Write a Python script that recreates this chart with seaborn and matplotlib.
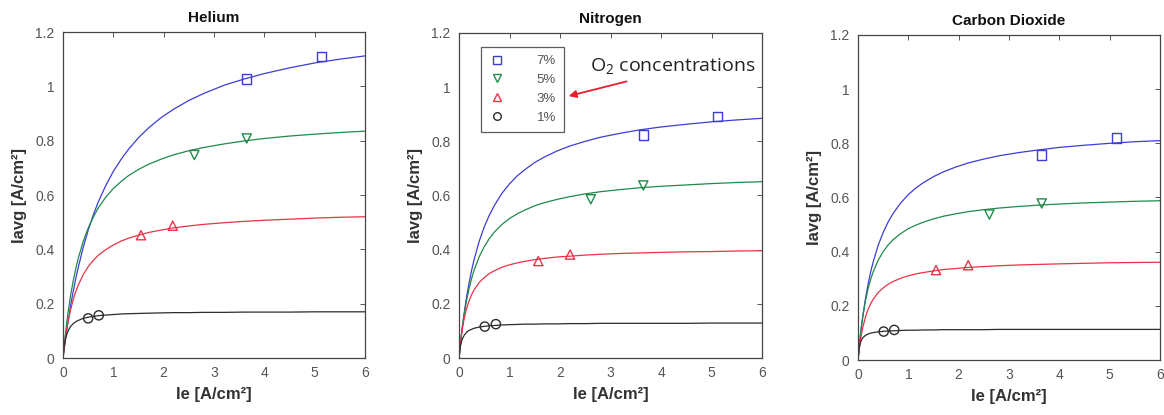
import matplotlib
matplotlib.use("Agg")
import matplotlib.pyplot as plt
from matplotlib.lines import Line2D
import seaborn as sns

# ---------------- data ----------------
GASES = ["Helium", "Nitrogen", "Carbon Dioxide"]
CONC_LABELS = ["7%", "5%", "3%", "1%"]

X_FIT = [0, 0.025, 0.05, 0.075, 0.1, 0.15, 0.2, 0.25, 0.3, 0.4, 0.5, 0.6, 0.7, 0.85, 1.0,
         1.15, 1.3, 1.5, 1.7, 1.95, 2.2, 2.5, 2.8, 3.2, 3.6, 4.0, 4.5, 5.0, 5.5, 6.0]

he_fit_7 = [0, 0.036, 0.071, 0.103, 0.134, 0.191, 0.242, 0.289, 0.331, 0.406, 0.470, 0.526, 0.574, 0.635, 0.687,
            0.730, 0.768, 0.811, 0.847, 0.885, 0.916, 0.948, 0.974, 1.004, 1.027, 1.047, 1.068, 1.086, 1.100, 1.112]
he_fit_5 = [0, 0.049, 0.092, 0.131, 0.167, 0.229, 0.281, 0.326, 0.365, 0.428, 0.478, 0.518, 0.552, 0.592, 0.624,
            0.649, 0.671, 0.694, 0.713, 0.732, 0.748, 0.763, 0.775, 0.788, 0.799, 0.808, 0.817, 0.824, 0.830, 0.835]
he_fit_3 = [0, 0.040, 0.075, 0.106, 0.132, 0.177, 0.213, 0.243, 0.267, 0.306, 0.336, 0.359, 0.378, 0.399, 0.416,
            0.430, 0.441, 0.452, 0.462, 0.471, 0.479, 0.486, 0.492, 0.498, 0.503, 0.507, 0.511, 0.515, 0.518, 0.520]
he_fit_1 = [0, 0.044, 0.070, 0.087, 0.099, 0.116, 0.126, 0.133, 0.138, 0.146, 0.150, 0.153, 0.156, 0.158, 0.160,
            0.162, 0.163, 0.164, 0.165, 0.166, 0.167, 0.167, 0.168, 0.168, 0.169, 0.169, 0.169, 0.170, 0.170, 0.170]

n2_fit_7 = [0, 0.047, 0.089, 0.127, 0.163, 0.225, 0.278, 0.324, 0.364, 0.431, 0.484, 0.527, 0.563, 0.608, 0.643,
            0.672, 0.695, 0.722, 0.743, 0.765, 0.783, 0.800, 0.815, 0.830, 0.843, 0.853, 0.863, 0.872, 0.879, 0.885]
n2_fit_5 = [0, 0.048, 0.089, 0.126, 0.158, 0.213, 0.257, 0.294, 0.325, 0.374, 0.411, 0.441, 0.465, 0.493, 0.515,
            0.532, 0.546, 0.562, 0.574, 0.586, 0.596, 0.606, 0.614, 0.622, 0.629, 0.634, 0.639, 0.644, 0.648, 0.651]
n2_fit_3 = [0, 0.048, 0.086, 0.117, 0.143, 0.182, 0.211, 0.234, 0.252, 0.279, 0.297, 0.312, 0.322, 0.335, 0.344,
            0.351, 0.357, 0.363, 0.368, 0.373, 0.376, 0.380, 0.383, 0.386, 0.388, 0.390, 0.392, 0.393, 0.395, 0.396]
n2_fit_1 = [0, 0.040, 0.061, 0.074, 0.083, 0.095, 0.102, 0.106, 0.110, 0.114, 0.117, 0.119, 0.120, 0.122, 0.123,
            0.124, 0.125, 0.125, 0.126, 0.126, 0.127, 0.127, 0.128, 0.128, 0.128, 0.128, 0.128, 0.129, 0.129, 0.129]

co2_fit_7 = [0, 0.049, 0.092, 0.131, 0.167, 0.228, 0.280, 0.324, 0.361, 0.423, 0.471, 0.510, 0.542, 0.580, 0.611,
             0.635, 0.655, 0.677, 0.695, 0.713, 0.728, 0.742, 0.754, 0.766, 0.776, 0.785, 0.793, 0.800, 0.806, 0.810]
co2_fit_5 = [0, 0.053, 0.097, 0.135, 0.167, 0.221, 0.263, 0.297, 0.325, 0.368, 0.400, 0.425, 0.445, 0.467, 0.485,
             0.498, 0.509, 0.521, 0.531, 0.540, 0.548, 0.555, 0.561, 0.567, 0.572, 0.576, 0.580, 0.583, 0.586, 0.588]
co2_fit_3 = [0, 0.041, 0.075, 0.102, 0.124, 0.160, 0.187, 0.207, 0.224, 0.249, 0.266, 0.280, 0.290, 0.302, 0.311,
             0.318, 0.323, 0.329, 0.334, 0.338, 0.342, 0.345, 0.348, 0.351, 0.353, 0.355, 0.357, 0.359, 0.360, 0.361]
co2_fit_1 = [0, 0.045, 0.065, 0.076, 0.083, 0.091, 0.096, 0.099, 0.101, 0.104, 0.106, 0.107, 0.108, 0.109, 0.110,
             0.110, 0.111, 0.111, 0.112, 0.112, 0.112, 0.112, 0.113, 0.113, 0.113, 0.113, 0.113, 0.113, 0.113, 0.113]

# measured points
he_x_7, he_y_7 = [3.65, 5.13], [1.027, 1.110]
he_x_5, he_y_5 = [2.61, 3.65], [0.747, 0.808]
he_x_3, he_y_3 = [1.55, 2.18], [0.452, 0.487]
he_x_1, he_y_1 = [0.50, 0.71], [0.146, 0.157]

n2_x_7, n2_y_7 = [3.65, 5.12], [0.823, 0.893]
n2_x_5, n2_y_5 = [2.61, 3.65], [0.586, 0.637]
n2_x_3, n2_y_3 = [1.57, 2.20], [0.358, 0.382]
n2_x_1, n2_y_1 = [0.51, 0.73], [0.116, 0.125]

co2_x_7, co2_y_7 = [3.65, 5.13], [0.757, 0.820]
co2_x_5, co2_y_5 = [2.61, 3.65], [0.537, 0.578]
co2_x_3, co2_y_3 = [1.55, 2.19], [0.332, 0.350]
co2_x_1, co2_y_1 = [0.51, 0.72], [0.105, 0.111]

X_TICKS = [0, 1, 2, 3, 4, 5, 6]
Y_TICKS = [0, 0.2, 0.4, 0.6, 0.8, 1.0, 1.2]
Y_TICK_LABELS = ["0", "0.2", "0.4", "0.6", "0.8", "1", "1.2"]

# ---------------- styling ----------------
sns.set_style("white")
plt.rcParams["font.family"] = ["Liberation Sans", "DejaVu Sans"]
plt.rcParams["mathtext.fontset"] = "custom"
plt.rcParams["mathtext.rm"] = "Open Sans"

COLORS = ["#3d3dd6", "#1f8a4a", "#ea3348", "#2b2b2b"]
MARKERS = ["s", "v", "^", "o"]

fits = [
    [he_fit_7, he_fit_5, he_fit_3, he_fit_1],
    [n2_fit_7, n2_fit_5, n2_fit_3, n2_fit_1],
    [co2_fit_7, co2_fit_5, co2_fit_3, co2_fit_1],
]
points = [
    [(he_x_7, he_y_7), (he_x_5, he_y_5), (he_x_3, he_y_3), (he_x_1, he_y_1)],
    [(n2_x_7, n2_y_7), (n2_x_5, n2_y_5), (n2_x_3, n2_y_3), (n2_x_1, n2_y_1)],
    [(co2_x_7, co2_y_7), (co2_x_5, co2_y_5), (co2_x_3, co2_y_3), (co2_x_1, co2_y_1)],
]

fig = plt.figure(figsize=(11.64, 4.15), dpi=100)
axes_rects = [
    [63 / 1164, 57 / 415, 302 / 1164, 326 / 415],
    [459 / 1164, 57 / 415, 303 / 1164, 325 / 415],
    [858 / 1164, 55 / 415, 302 / 1164, 325 / 415],
]

axes = []
for gi, gas in enumerate(GASES):
    ax = fig.add_axes(axes_rects[gi])
    axes.append(ax)
    for ci in range(4):
        sns.lineplot(x=X_FIT, y=fits[gi][ci], color=COLORS[ci], linewidth=0.9,
                     ax=ax, legend=False, estimator=None, sort=False)
    for ci in range(4):
        px, py = points[gi][ci]
        sns.scatterplot(x=px, y=py, marker=MARKERS[ci], s=44, facecolor="none",
                        edgecolor=COLORS[ci], linewidth=1.0, ax=ax, legend=False, zorder=3)
    ax.set_xlim(0, 6)
    ax.set_ylim(0, 1.2)
    ax.set_xticks(X_TICKS)
    ax.set_yticks(Y_TICKS)
    ax.set_yticklabels(Y_TICK_LABELS)
    ax.tick_params(direction="in", top=True, right=True, length=3.5, width=0.7,
                   color="#555555", labelcolor="#555555", labelsize=10, pad=6)
    for sp in ax.spines.values():
        sp.set_color("#444444")
        sp.set_linewidth(0.9)
    ax.set_title(gas, fontsize=11, fontweight="bold", color="#111111", pad=7)
    ax.set_xlabel("Ie [A/cm²]", fontsize=12, fontweight="bold", color="#333333", labelpad=5)
    ax.set_ylabel("Iavg [A/cm²]", fontsize=12, fontweight="bold", color="#333333", labelpad=6)

# legend in the Nitrogen panel
ax2 = axes[1]
handles = [Line2D([], [], linestyle="none", marker=MARKERS[i], markerfacecolor="none",
                  markeredgecolor=COLORS[i], markersize=5.5, markeredgewidth=1.0)
           for i in range(4)]
leg = ax2.legend(handles, CONC_LABELS, loc="upper left", bbox_to_anchor=(0.073, 0.957),
                 borderaxespad=0, frameon=True, fancybox=False, fontsize=9.5,
                 handlelength=1.2, handletextpad=2.4, labelspacing=0.5,
                 borderpad=0.6, markerfirst=True)
leg.get_frame().set_edgecolor("#333333")
leg.get_frame().set_linewidth(0.9)
for t in leg.get_texts():
    t.set_color("#555555")

ax2.text(0.432, 0.895, r"O$_2$ concentrations", transform=ax2.transAxes,
         fontsize=14, family="Open Sans", color="#222222", va="center", ha="left")
ax2.annotate("", xy=(0.362, 0.806), xytext=(0.553, 0.851),
             xycoords="axes fraction", textcoords="axes fraction",
             arrowprops=dict(arrowstyle="-|>", color="#e8202c", lw=1.3,
                             mutation_scale=11, shrinkA=0, shrinkB=0))

fig.savefig("out.png", dpi=100)
